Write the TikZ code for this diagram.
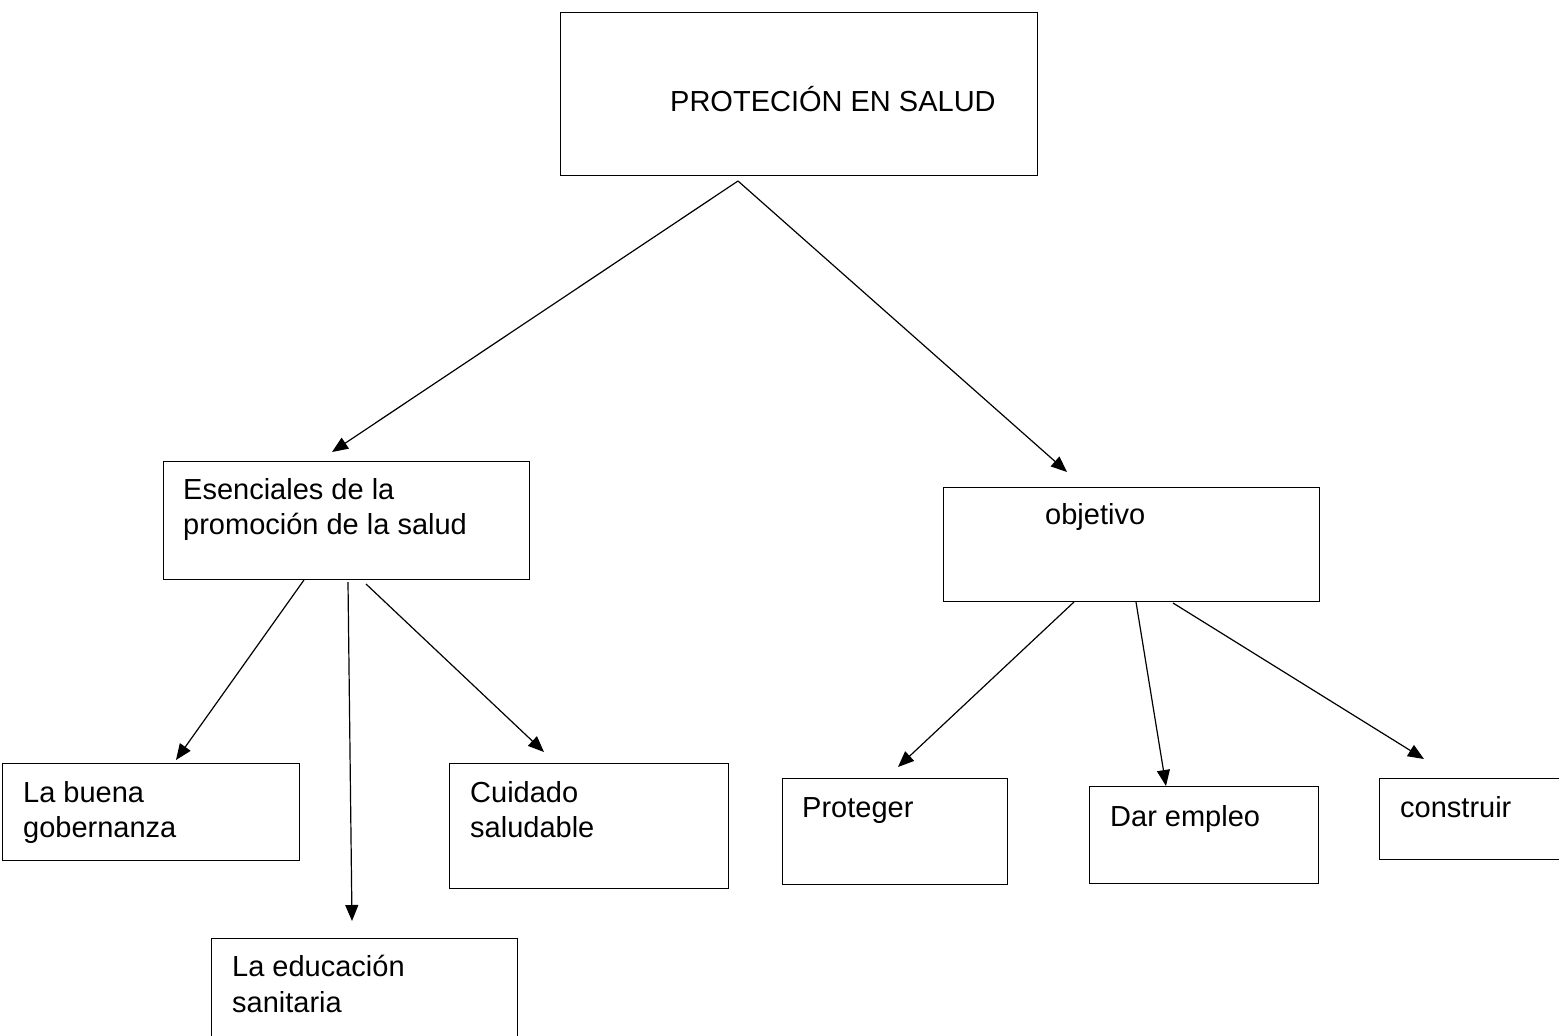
\documentclass[tikz,border=0pt]{standalone}
\usepackage{fontspec}
\setmainfont{Liberation Sans}
\usetikzlibrary{arrows.meta}
\begin{document}
\begin{tikzpicture}[x=1pt,y=-1pt,
  box/.style={draw=black, line width=1.3pt, rectangle, inner sep=0pt, anchor=north west},
  lbl/.style={anchor=base west, inner sep=0pt, font=\fontsize{29}{35}\selectfont},
  arr/.style={draw=black, line width=1.2pt, -{Triangle[length=16pt,width=13pt]}}]
\clip (0,0) rectangle (1559,1036);
\fill[white] (0,0) rectangle (1559,1036);
% boxes
\node[box, minimum width=477pt, minimum height=163pt] (top) at (560,12) {};
\node[box, minimum width=366pt, minimum height=118pt] (esen) at (163,461) {};
\node[box, minimum width=376pt, minimum height=114pt] (obj) at (943,487) {};
\node[box, minimum width=297pt, minimum height=97pt] (buena) at (2,763) {};
\node[box, minimum width=279pt, minimum height=125pt] (cuid) at (449,763) {};
\node[box, minimum width=306pt, minimum height=110pt] (educ) at (211,938) {};
\node[box, minimum width=225pt, minimum height=106pt] (prot) at (782,778) {};
\node[box, minimum width=229pt, minimum height=97pt] (dar) at (1089,786) {};
\node[box, minimum width=190pt, minimum height=81pt] (cons) at (1379,778) {};
% texts
\node[lbl] (ttop) at (670,111) {PROTECIÓN EN SALUD};
\node[lbl] (tesen1) at (183,499) {Esenciales de la};
\node[lbl] (tesen2) at (183,534) {promoción de la salud};
\node[lbl] (tobj) at (1045,524) {objetivo};
\node[lbl] (tbuena1) at (23,802) {La buena};
\node[lbl] (tbuena2) at (23,837) {gobernanza};
\node[lbl] (tcuid1) at (470,802) {Cuidado};
\node[lbl] (tcuid2) at (470,837) {saludable};
\node[lbl] (teduc1) at (232,976) {La educación};
\node[lbl] (teduc2) at (232,1012) {sanitaria};
\node[lbl] (tprot) at (802,817) {Proteger};
\node[lbl] (tdar) at (1110,826) {Dar empleo};
\node[lbl] (tcons) at (1400,817) {construir};
% connector ends
\coordinate (s0) at (738,181);
\coordinate (e1) at (332,452);
\coordinate (e2) at (1067,472);
\coordinate (s3) at (304,580);
\coordinate (e3) at (176,760);
\coordinate (s4) at (348,582);
\coordinate (e4) at (352,921);
\coordinate (s5) at (366,584);
\coordinate (e5) at (544,752);
\coordinate (s6) at (1074,602);
\coordinate (e6) at (898,767);
\coordinate (s7) at (1136,602);
\coordinate (e7) at (1166,786);
\coordinate (s8) at (1173,603);
\coordinate (e8) at (1424,759);
% connectors
\draw[arr] (s0) -- (e1);
\draw[arr] (s0) -- (e2);
\draw[arr] (s3) -- (e3);
\draw[arr] (s4) -- (e4);
\draw[arr] (s5) -- (e5);
\draw[arr] (s6) -- (e6);
\draw[arr] (s7) -- (e7);
\draw[arr] (s8) -- (e8);
\end{tikzpicture}
\end{document}
